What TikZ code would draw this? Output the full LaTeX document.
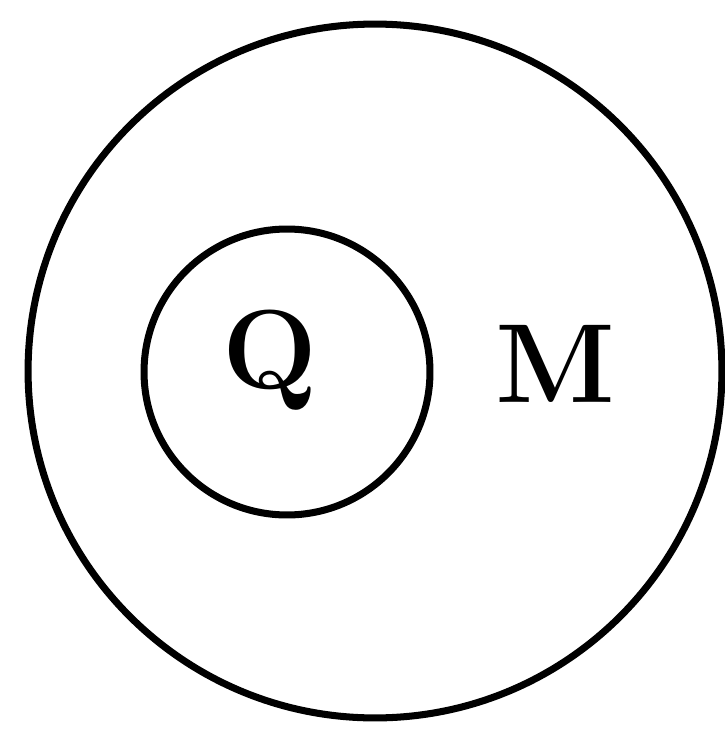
\documentclass[tikz,border=0pt]{standalone}
\usepackage{fontspec}
\usetikzlibrary{positioning}

\begin{document}
\begin{tikzpicture}[
      x=0.02cm, y=-0.02cm,
      set/.style={circle, draw, line width=4pt, inner sep=0pt},
      setlabel/.style={font=\fontsize{64}{70}\selectfont\bfseries, inner sep=0pt, anchor=base}
  ]
  \useasboundingbox (0,0) rectangle (724,734);

  \node [set, minimum size=13.88cm] (outer) at (375,371) {};
  \node [set, minimum size=5.72cm] (inner) at (287,372) {};

  \node [setlabel] (q) at (270,388) {Q};
  \node [setlabel] (m) at (555,402) {M};

\end{tikzpicture}
\end{document}
